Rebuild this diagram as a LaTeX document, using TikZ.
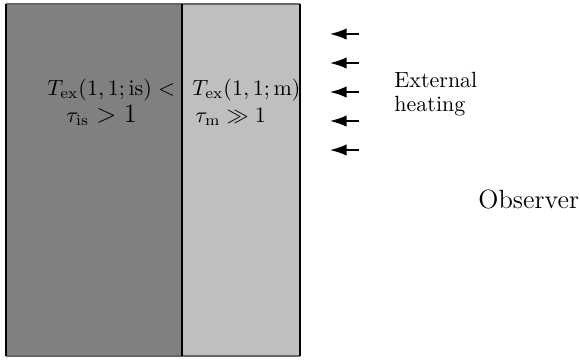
\documentclass[tikz,border=0pt]{standalone}
\usetikzlibrary{arrows.meta}
\begin{document}
\begin{tikzpicture}[x=0.4545pt,y=-0.4545pt,
  heatarrow/.style={line width=0.7pt,-{Latex[length=7.6pt,width=5.2pt]}},
  lbl/.style={inner sep=0pt,anchor=base west}]
\useasboundingbox (0,0) rectangle (580,360);
\fill[black!50] (6,4) rectangle (182,356);
\fill[black!25] (182,4) rectangle (300,356);
\draw[black!60,line width=0.6pt] (6,4) -- (300,4);
\draw[black!60,line width=0.6pt] (6,356) -- (300,356);
\draw[line width=0.6pt] (6,4) -- (6,356);
\draw[line width=0.6pt] (182,4) -- (182,356);
\draw[line width=0.6pt] (300,4) -- (300,356);
\node[lbl] (t1) at (47,95) {$T_{\rm ex}(1,1;{\rm is})<$};
\node[lbl] (t2) at (66,122) {$\tau_{\rm is}$ {\large $>1$}};
\node[lbl] (t3) at (192,95) {$T_{\rm ex}(1,1;{\rm m})$};
\node[lbl] (t4) at (195,122) {$\tau_{\rm m}\gg1$};
\foreach \y/\n in {34/a1,63/a2,92/a3,121/a4,150/a5}{
  \coordinate (\n s) at (359,\y);
  \coordinate (\n e) at (330,\y);
  \draw[heatarrow] (\n s) -- (\n e);
}
\node[lbl] (heat1) at (394,87) {External};
\node[lbl] (heat2) at (394,111) {heating};
\node[lbl,font=\large] (obs) at (478,208) {Observer};
\end{tikzpicture}
\end{document}
